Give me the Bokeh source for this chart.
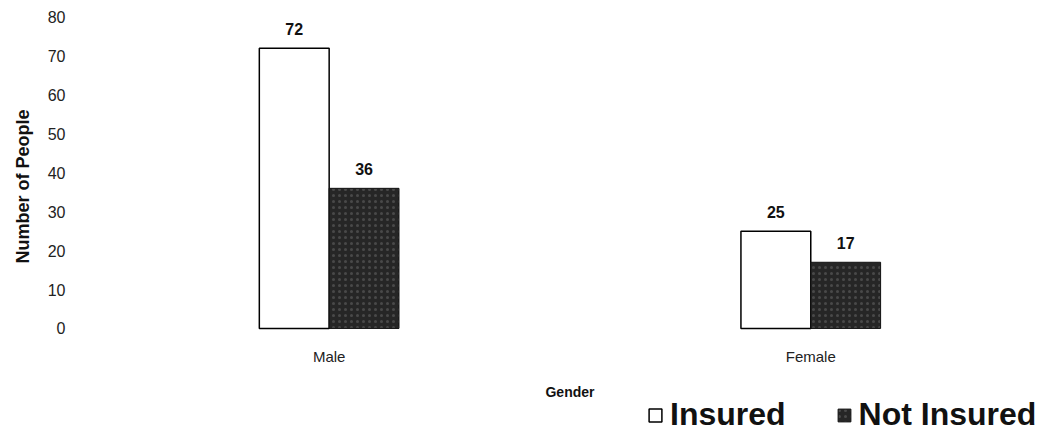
from bokeh.plotting import figure
from bokeh.models import ColumnDataSource, FixedTicker, Legend, LegendItem, Range1d, Title
from bokeh.core.properties import value
from bokeh.embed import file_html
from bokeh.resources import INLINE

# ---- data ----
categories = ["Male", "Female"]
insured = [72, 25]
not_insured = [36, 17]
series_names = ["Insured", "Not Insured"]
y_ticks = [0, 10, 20, 30, 40, 50, 60, 70, 80]
x_title = "Gender"
y_title = "Number of People"

FONT = "Liberation Sans"
xs = list(range(len(categories)))
bw = 0.145
off = bw / 2

src_ins = ColumnDataSource(dict(x=[i - off for i in xs], top=insured,
                                lbl=[str(v) for v in insured]))
src_not = ColumnDataSource(dict(x=[i + off for i in xs], top=not_insured,
                                lbl=[str(v) for v in not_insured]))
src_cat = ColumnDataSource(dict(x=xs, y=[0] * len(xs), t=categories))
src_xt = ColumnDataSource(dict(x=[(xs[0] + xs[-1]) / 2], y=[0], t=[x_title]))

p = figure(width=1040, height=433, output_backend="svg", toolbar_location=None,
           x_range=Range1d(-0.535, 1.477), y_range=Range1d(-27.0, 81.7),
           x_axis_location=None,
           min_border_left=70, min_border_right=0, min_border_top=10,
           min_border_bottom=0)
p.outline_line_color = None
p.xgrid.visible = False
p.ygrid.visible = False
p.background_fill_color = "white"
p.border_fill_color = "white"

r1 = p.vbar(x="x", top="top", bottom=0, width=bw, source=src_ins,
            fill_color="white", line_color="black", line_width=1.5)
r2 = p.vbar(x="x", top="top", bottom=0, width=bw, source=src_not,
            fill_color="#262626", line_color="#111111", line_width=1.0,
            hatch_pattern="dot", hatch_color="#8a8a8a", hatch_scale=6,
            hatch_alpha=0.35)

for s in (src_ins, src_not):
    p.text(x="x", y="top", text="lbl", source=s, text_align="center",
           text_baseline="bottom", y_offset=-13, text_font=value(FONT),
           text_font_size="16px", text_font_style="bold", text_color="#111111")

# category labels and x title (x axis drawn as text under the bars)
p.text(x="x", y="y", text="t", source=src_cat, text_align="center",
       text_baseline="middle", y_offset=28, text_font=value(FONT),
       text_font_size="15px", text_color="#222222")
p.text(x="x", y="y", text="t", source=src_xt, text_align="center",
       text_baseline="middle", y_offset=64, text_font=value(FONT),
       text_font_size="14px", text_font_style="bold", text_color="#111111")

# y axis
p.yaxis.ticker = FixedTicker(ticks=y_ticks)
p.yaxis.axis_line_color = None
p.yaxis.major_tick_line_color = None
p.yaxis.minor_tick_line_color = None
p.yaxis.major_label_standoff = 0
p.yaxis.major_label_text_font = FONT
p.yaxis.major_label_text_font_size = "16px"
p.yaxis.major_label_text_color = "#222222"

ytitle = Title(text=y_title, align="left", offset=170, vertical_align="middle",
               standoff=22, text_font=FONT, text_font_size="18px",
               text_font_style="bold", text_color="#111111")
p.add_layout(ytitle, "left")

legend = Legend(items=[LegendItem(label=series_names[0], renderers=[r1]),
                       LegendItem(label=series_names[1], renderers=[r2])],
                orientation="horizontal", location=(576, 0),
                border_line_color=None, background_fill_alpha=0,
                padding=0, margin=0, spacing=50,
                glyph_width=16, glyph_height=16, label_standoff=7,
                label_text_font=FONT, label_text_font_size="32px",
                label_text_font_style="bold", label_text_color="#111111")
p.add_layout(legend, "center")

open("out.html", "w").write(file_html(p, INLINE))
